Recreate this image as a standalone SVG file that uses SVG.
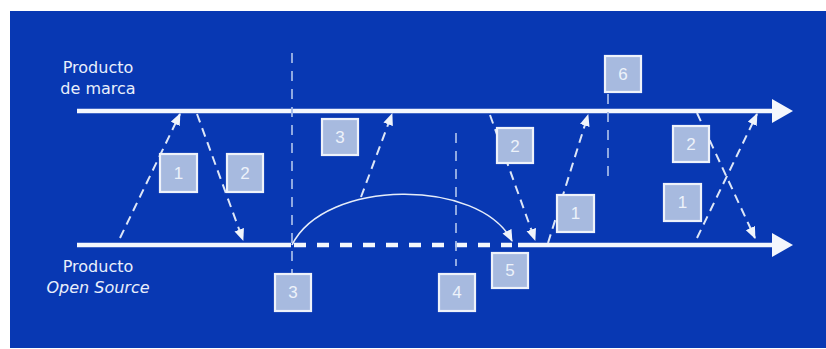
<svg xmlns="http://www.w3.org/2000/svg" width="826" height="349" viewBox="0 0 826 349">
  <defs>
    <style>
      .bg { fill: #0838b3; }
      .main { stroke: #f4f7fd; stroke-width: 4.5; fill: none; }
      .maindash { stroke: #f4f7fd; stroke-width: 4.5; fill: none; stroke-dasharray: 12 11; }
      .head { fill: #f4f7fd; }
      .flow { stroke: #dde6f7; stroke-width: 2; fill: none; stroke-dasharray: 9 6; marker-end: url(#ah); }
      .vline { stroke: #9fb6e6; stroke-width: 1.8; fill: none; stroke-dasharray: 10 8; }
      .arc { stroke: #e6edf9; stroke-width: 1.6; fill: none; marker-end: url(#ah); }
      .box { fill: #a7badf; stroke: #eef2fa; stroke-width: 2.2; }
      .num { fill: #edf2fa; font-family: "Liberation Sans", Arial, sans-serif; font-size: 17px; text-anchor: middle; }
      .lbl { fill: #e9effb; font-family: "DejaVu Sans", "Liberation Sans", sans-serif; font-size: 16px; text-anchor: middle; }
    </style>
    <marker id="ah" markerUnits="userSpaceOnUse" markerWidth="13" markerHeight="11" refX="11" refY="5" orient="auto">
      <path d="M0,0 L12,5 L0,10 z" fill="#f0f4fb"/>
    </marker>
  </defs>

  <rect class="bg" x="10" y="11" width="816" height="337"/>

  <g id="connectors">
    <!-- main timelines -->
    <line class="main" x1="77" y1="111" x2="775" y2="111"/>
    <polygon class="head" points="772,99 793,111 772,123"/>
    <line class="main" x1="77" y1="245" x2="291" y2="245"/>
    <line class="maindash" x1="294" y1="245" x2="512" y2="245"/>
    <line class="main" x1="518" y1="245" x2="775" y2="245"/>
    <polygon class="head" points="772,233 793,245 772,257"/>

    <!-- vertical dashed markers -->
    <line class="vline" x1="292" y1="53" x2="292" y2="274"/>
    <line class="vline" x1="456" y1="133" x2="456" y2="266"/>
    <line class="vline" x1="608" y1="94" x2="608" y2="180"/>

    <!-- dashed flows -->
    <line class="flow" x1="120" y1="238" x2="180" y2="114"/>
    <line class="flow" x1="197" y1="114" x2="243" y2="240"/>
    <line class="flow" x1="361" y1="197" x2="392" y2="114"/>
    <line class="flow" x1="490" y1="115" x2="535" y2="240"/>
    <line class="flow" x1="548" y1="243" x2="588" y2="115"/>
    <line class="flow" x1="697" y1="113" x2="755" y2="238"/>
    <line class="flow" x1="697" y1="238" x2="757" y2="114"/>

    <!-- arc -->
    <path class="arc" d="M292,245 C325,178 480,178 512,241"/>
  </g>

  <g id="label-marca">
    <text class="lbl" x="98" y="73">Producto</text>
    <text class="lbl" x="98" y="94">de marca</text>
  </g>
  <g id="label-opensource">
    <text class="lbl" x="98" y="272">Producto</text>
    <text class="lbl" x="98" y="293" font-style="italic">Open Source</text>
  </g>

  <g id="box-1a"><rect class="box" x="160" y="154" width="37" height="38"/><text class="num" x="178.5" y="179">1</text></g>
  <g id="box-2a"><rect class="box" x="227" y="154" width="36" height="38"/><text class="num" x="245" y="179">2</text></g>
  <g id="box-3a"><rect class="box" x="322" y="119" width="36" height="36"/><text class="num" x="340" y="143">3</text></g>
  <g id="box-2b"><rect class="box" x="497" y="128" width="36" height="35"/><text class="num" x="515" y="152">2</text></g>
  <g id="box-6"><rect class="box" x="605" y="56" width="36" height="36"/><text class="num" x="623" y="80">6</text></g>
  <g id="box-1b"><rect class="box" x="557" y="195" width="37" height="37"/><text class="num" x="575.5" y="219">1</text></g>
  <g id="box-2c"><rect class="box" x="673" y="126" width="36" height="36"/><text class="num" x="691" y="150">2</text></g>
  <g id="box-1c"><rect class="box" x="664" y="184" width="37" height="37"/><text class="num" x="682.5" y="208">1</text></g>
  <g id="box-3b"><rect class="box" x="275" y="274" width="36" height="37"/><text class="num" x="293" y="298">3</text></g>
  <g id="box-4"><rect class="box" x="439" y="274" width="36" height="37"/><text class="num" x="457" y="298">4</text></g>
  <g id="box-5"><rect class="box" x="492" y="253" width="36" height="35"/><text class="num" x="510" y="276">5</text></g>
</svg>
